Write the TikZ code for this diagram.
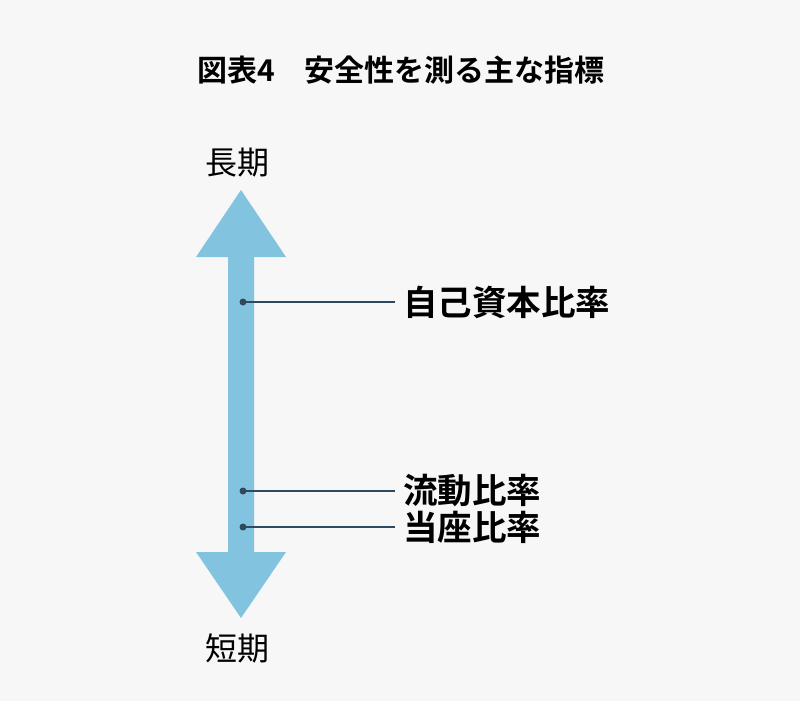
\documentclass[tikz,border=0pt]{standalone}
\usepackage{fontspec}
\newfontfamily\cjk{Noto Sans CJK JP}
\newfontfamily\cjkb{Noto Sans CJK JP Bold}
\definecolor{bg}{HTML}{F7F7F7}
\definecolor{arr}{HTML}{82C3DF}
\definecolor{ln}{HTML}{2F4A5E}
\begin{document}
\begin{tikzpicture}[x=1pt,y=-1pt,
  lab/.style={anchor=west,inner sep=0pt,font=\cjkb\fontsize{34.5}{38}\selectfont},
  dot/.style={circle,fill=ln,inner sep=0pt,minimum size=7pt}]
\fill[bg] (0,0) rectangle (800,701);
\useasboundingbox (0,0) rectangle (800,701);
\node[font=\cjkb\fontsize{30}{34}\selectfont] (title) at (401,70) {図表4\quad 安全性を測る主な指標};
\node[font=\cjk\fontsize{32}{36}\selectfont] (long) at (237,163) {長期};
\node[font=\cjk\fontsize{32}{36}\selectfont] (short) at (237,648) {短期};
\fill[arr] (241,190) -- (286,257) -- (254,257) -- (254,552) -- (286,552) -- (241,618) -- (196,552) -- (228,552) -- (228,257) -- (196,257) -- cycle;
\node[dot] (d1) at (243,302) {};
\node[dot] (d2) at (243,491) {};
\node[dot] (d3) at (243,527) {};
\node[lab] (l1) at (403,302) {自己資本比率};
\node[lab] (l2) at (403,491) {流動比率};
\node[lab] (l3) at (403,527) {当座比率};
\draw[ln,line width=1.5pt] (d1.center) -- ([xshift=-8pt]l1.west);
\draw[ln,line width=1.5pt] (d2.center) -- ([xshift=-8pt]l2.west);
\draw[ln,line width=1.5pt] (d3.center) -- ([xshift=-8pt]l3.west);
\end{tikzpicture}
\end{document}
